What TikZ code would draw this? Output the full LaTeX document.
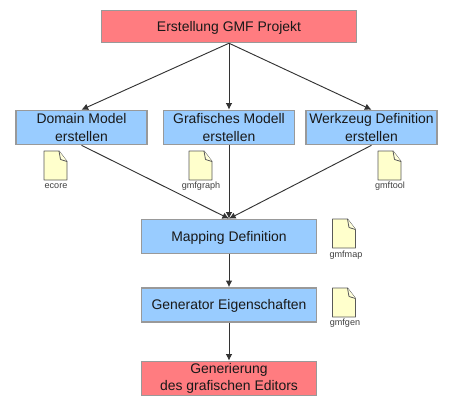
\documentclass[tikz,border=0pt]{standalone}
\usepackage{fontspec}
\setmainfont{Liberation Sans}
\usetikzlibrary{arrows.meta}
\definecolor{boxblue}{HTML}{99CCFF}
\definecolor{boxred}{HTML}{FF7C80}
\definecolor{boxedge}{HTML}{999999}
\definecolor{filly}{HTML}{FFFFCC}
\definecolor{lineg}{HTML}{333333}
\tikzset{
  px/.style={x=0.75pt,y=-0.75pt},
  boxbase/.style={draw=boxedge,line width=1.1pt,align=center,inner sep=0pt,text=black!90,
    font=\fontsize{10.45pt}{12.8pt}\selectfont,
    execute at begin node={\rule{0pt}{9.6pt}}},
  bluebox/.style={boxbase,fill=boxblue,minimum width=98pt,minimum height=25.6pt},
  widebox/.style={boxbase,fill=boxblue,minimum width=131pt,minimum height=25.6pt},
  redbox/.style={boxbase,fill=boxred,minimum width=131pt,minimum height=25.6pt},
  topbox/.style={boxbase,fill=boxred,minimum width=191pt,minimum height=24pt},
  link/.style={draw=lineg,line width=0.7pt,-{Latex[length=5pt,width=5pt]}},
  filelabel/.style={font=\fontsize{6.8pt}{7pt}\selectfont,text=black!75,inner sep=0pt},
  doc/.pic={
    \path[draw=black!65,fill=filly,line width=0.7pt,line join=round]
      (-11.5,-14.5) -- (3.5,-14.5) -- (11.5,-4) -- (11.5,14.5) -- (-11.5,14.5) -- cycle;
    \path[draw=black!65,fill=filly!70!white,line width=0.6pt,line join=round]
      (3.5,-14.5) -- (5,-6) -- (11.5,-4);
  }
}
\begin{document}
\begin{tikzpicture}[px]
\useasboundingbox (0,0) rectangle (450,414);
\node[topbox] (top) at (229,26.5) {Erstellung GMF Projekt};
\node[bluebox] (dom) at (81.5,127.5) {Domain Model\\erstellen};
\node[bluebox] (gra) at (229,127.5) {Grafisches Modell\\erstellen};
\node[bluebox] (wer) at (371.5,127.5) {Werkzeug Definition\\erstellen};
\node[widebox] (map) at (229,236.5) {Mapping Definition};
\node[widebox] (gen) at (229,305) {Generator Eigenschaften};
\node[redbox] (edi) at (229,378.5) {Generierung\\des grafischen Editors};
\draw[link] (top.south) -- (dom.north);
\draw[link] (top.south) -- (gra.north);
\draw[link] (top.south) -- (wer.north);
\draw[link] (dom.south) -- (map.north);
\draw[link] (gra.south) -- (map.north);
\draw[link] (wer.south) -- (map.north);
\draw[link] (map.south) -- (gen.north);
\draw[link] (gen.south) -- (edi.north);
\pic at (55.5,165.5) {doc};
\pic at (200.5,165.5) {doc};
\pic at (389.5,165.5) {doc};
\pic at (344,233.5) {doc};
\pic at (344,302.5) {doc};
\node[filelabel] (l1) at (56,186.5) {ecore};
\node[filelabel] (l2) at (201,186.5) {gmfgraph};
\node[filelabel] (l3) at (390,186.5) {gmftool};
\node[filelabel] (l4) at (346,255) {gmfmap};
\node[filelabel] (l5) at (345,323) {gmfgen};
\end{tikzpicture}
\end{document}
